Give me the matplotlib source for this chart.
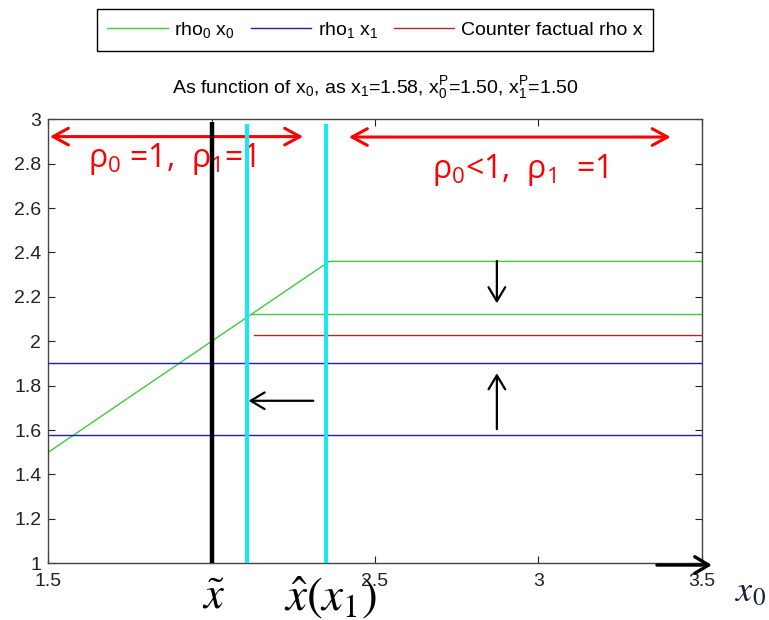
import matplotlib.pyplot as plt

plt.rcParams['font.family'] = ['Liberation Sans', 'DejaVu Sans']
plt.rcParams['mathtext.fontset'] = 'stix'

# values
x0_green = [1.5, 2.36, 3.5]
rho0_green = [1.5, 2.36, 2.36]
x0_green_low = [2.12, 3.5]
rho0_green_low = [2.125, 2.125]
x_full = [1.5, 3.5]
rho1_levels = [1.9, 1.58]
x_cf = [2.13, 3.5]
rho_cf = [2.03, 2.03]
x_tilde = 2.0
x_hat = [2.107, 2.35]

xticks = [1.5, 2, 2.5, 3, 3.5]
xtick_labels = ['1.5', '2', '2.5', '3', '3.5']
yticks = [1, 1.2, 1.4, 1.6, 1.8, 2, 2.2, 2.4, 2.6, 2.8, 3]
ytick_labels = ['1', '1.2', '1.4', '1.6', '1.8', '2', '2.2', '2.4', '2.6', '2.8', '3']

green = '#3ccc3c'
blue = '#1f1f9e'
red = '#b82828'
cyan = '#1de6ef'

fig = plt.figure(figsize=(7.69, 6.2), dpi=100)
ax = fig.add_axes([0.0628, 0.0915, 0.8497, 0.7161])

ax.plot(x0_green, rho0_green, color=green, lw=1, label=r'rho$\mathregular{_0}$ x$\mathregular{_0}$')
ax.plot(x0_green_low, rho0_green_low, color=green, lw=1)
for i, lvl in enumerate(rho1_levels):
    ax.plot(x_full, [lvl, lvl], color=blue, lw=1,
            label=r'rho$\mathregular{_1}$ x$\mathregular{_1}$' if i == 0 else None)
ax.plot(x_cf, rho_cf, color=red, lw=1, label='Counter factual rho x')

# vertical markers
ax.plot([x_tilde, x_tilde], [1.0, 2.99], color='black', lw=3.2, zorder=5, solid_capstyle='butt')
for xh in x_hat:
    ax.plot([xh, xh], [1.0, 2.98], color=cyan, lw=3, zorder=5, solid_capstyle='butt')

# red region arrows + text
red_arrow = dict(arrowstyle='<->,head_length=0.55,head_width=0.3', color='#ff0000', lw=2.2,
                 shrinkA=0, shrinkB=0, mutation_scale=20)
ax.annotate('', xy=(1.505, 2.922), xytext=(2.28, 2.922), arrowprops=red_arrow, zorder=3)
ax.annotate('', xy=(2.42, 2.92), xytext=(3.405, 2.92), arrowprops=red_arrow, zorder=3)
ax.text(1.621, 2.82, r'ρ$\mathregular{_0}$ =1,  ρ$\mathregular{_1}$=1', color='#ff0000',
        fontsize=23, family='Open Sans', va='center', ha='left', zorder=3)
ax.text(2.674, 2.772, r'ρ$\mathregular{_0}$<1,  ρ$\mathregular{_1}$  =1', color='#ff0000',
        fontsize=23, family='Open Sans', va='center', ha='left', zorder=3)

# black arrows
blk = dict(arrowstyle='->,head_length=0.5,head_width=0.3', color='black', lw=1.6,
           shrinkA=0, shrinkB=0, mutation_scale=20)
ax.annotate('', xy=(2.873, 2.171), xytext=(2.873, 2.362), arrowprops=blk)
ax.annotate('', xy=(2.873, 1.856), xytext=(2.873, 1.604), arrowprops=blk)
ax.annotate('', xy=(2.113, 1.732), xytext=(2.311, 1.732), arrowprops=blk)
ax.annotate('', xy=(3.531, 0.992), xytext=(3.363, 0.992), annotation_clip=False,
            arrowprops=dict(arrowstyle='->,head_length=0.5,head_width=0.3', color='black',
                            lw=2.4, shrinkA=0, shrinkB=0, mutation_scale=20))

# labels under the axis (x-tilde sits over the "2" tick label, as in the picture)
ax.text(2.007, 0.85, r'$\tilde{x}$', fontsize=32, ha='center', va='center', clip_on=False,
        zorder=6, bbox=dict(facecolor='white', edgecolor='none', pad=4))
ax.text(2.364, 0.846, r'$\hat{x}(x_1)$', fontsize=34, ha='center', va='center', clip_on=False)
ax.text(3.648, 0.873, r'$x_0$', fontsize=26, ha='center', va='center', clip_on=False, color='#15203a')

ax.set_xlim(1.5, 3.5)
ax.set_ylim(1, 3)
ax.set_xticks(xticks)
ax.set_xticklabels(xtick_labels)
ax.set_yticks(yticks)
ax.set_yticklabels(ytick_labels)
ax.tick_params(direction='in', top=True, right=True, length=5, width=0.8,
               labelsize=14, pad=5, colors='#222222')
ax.tick_params(axis='x', pad=7)
for s in ax.spines.values():
    s.set_color('#444444')
    s.set_linewidth(1.0)

fig.text(0.4877, 0.858,
         r'As function of x$\mathregular{_0}$, as x$\mathregular{_1}$=1.58, '
         r'x$\mathregular{^P_0}$=1.50, x$\mathregular{^P_1}$=1.50',
         ha='center', va='center', fontsize=14)

leg = fig.legend(loc='center', bbox_to_anchor=(0.4876, 0.9516), ncol=3, fontsize=14,
                 handlelength=3.1, handletextpad=0.35, columnspacing=0.8, borderpad=0.55,
                 fancybox=False, framealpha=1, edgecolor='black')
leg.get_frame().set_linewidth(1.0)

fig.savefig('out.png', dpi=100)
